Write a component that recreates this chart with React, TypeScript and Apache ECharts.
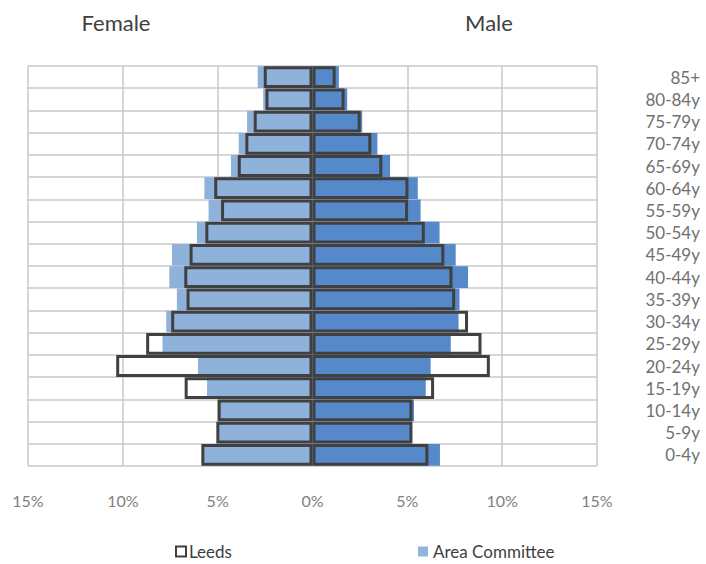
import React, { useEffect, useRef } from "react";
import * as echarts from "echarts";

const categories = ["0-4y", "5-9y", "10-14y", "15-19y", "20-24y", "25-29y", "30-34y", "35-39y", "40-44y", "45-49y", "50-54y", "55-59y", "60-64y", "65-69y", "70-74y", "75-79y", "80-84y", "85+"];
const femaleArea = [5.74, 4.95, 4.91, 5.56, 6.04, 7.91, 7.71, 7.15, 7.55, 7.41, 6.09, 5.48, 5.7, 4.3, 3.89, 3.45, 2.6, 2.89];
const femaleLeeds = [5.86, 5.07, 5.0, 6.74, 10.35, 8.77, 7.45, 6.64, 6.76, 6.48, 5.65, 4.82, 5.18, 3.94, 3.54, 3.1, 2.48, 2.57];
const maleArea = [6.72, 5.18, 5.35, 5.97, 6.23, 7.29, 7.7, 7.75, 8.2, 7.55, 6.7, 5.7, 5.55, 4.09, 3.42, 2.62, 1.83, 1.39];
const maleLeeds = [6.11, 5.27, 5.27, 6.41, 9.35, 8.91, 8.2, 7.52, 7.38, 6.95, 5.92, 5.04, 5.06, 3.68, 3.1, 2.54, 1.69, 1.22];
const xTicks = { min: -15, max: 15, interval: 5 };

const FONT = "Lato";

export default function App() {
  const ref = useRef<HTMLDivElement>(null);
  useEffect(() => {
    document.body.style.margin = "0";
    const chart = echarts.init(ref.current!, null, { renderer: "svg" });
    const barBase = { type: "bar" as const, barGap: "-100%", barCategoryGap: "2%" };
    chart.setOption({
      animation: false,
      textStyle: { fontFamily: FONT },
      grid: { left: 28, right: 109, top: 66, bottom: 98, containLabel: false, outerBoundsMode: "none" },
      graphic: [
        { type: "text", x: 116, y: 22, style: { text: "Female", fill: "#404040", font: `22px ${FONT}`, textAlign: "center", textVerticalAlign: "middle" } },
        { type: "text", x: 489, y: 22, style: { text: "Male", fill: "#404040", font: `22px ${FONT}`, textAlign: "center", textVerticalAlign: "middle" } },
      ],
      legend: [
        {
          left: 170, top: 538, itemWidth: 10, itemHeight: 10, icon: "rect", itemGap: 4,
          textStyle: { color: "#404040", fontSize: 17, fontFamily: FONT, padding: [0, 0, 0, -2] },
          data: [{ name: "Leeds", itemStyle: { color: "#ffffff", borderColor: "#404040", borderWidth: 2 } }],
        },
        {
          left: 413, top: 538, itemWidth: 10, itemHeight: 10, icon: "rect",
          textStyle: { color: "#404040", fontSize: 17, fontFamily: FONT },
          data: [{ name: "Area Committee", itemStyle: { color: "#95B3D7", borderWidth: 0 } }],
        },
      ],
      xAxis: {
        type: "value", min: xTicks.min, max: xTicks.max, interval: xTicks.interval,
        axisLine: { show: false }, axisTick: { show: false },
        axisLabel: { formatter: (v: number) => Math.abs(v) + "%", color: "#808080", fontSize: 16, fontFamily: FONT, margin: 26 },
        splitLine: { show: true, lineStyle: { color: "#C8C8C8", width: 1.5 } },
      },
      yAxis: {
        type: "category", data: categories, position: "right",
        axisLine: { show: false }, axisTick: { show: false },
        axisLabel: { align: "right", margin: 103, color: "#707070", fontSize: 17, fontFamily: FONT },
        splitLine: { show: true, lineStyle: { color: "#C8C8C8", width: 1.5 } },
      },
      series: [
        { ...barBase, name: "Area Committee", data: femaleArea.map((v) => -v), itemStyle: { color: "#8FB2DB" } },
        { ...barBase, name: "Area Committee", data: maleArea, itemStyle: { color: "#5689CA" } },
        { ...barBase, name: "Leeds", data: femaleLeeds.map((v) => -v), itemStyle: { color: "rgba(0,0,0,0)", borderColor: "#404040", borderWidth: 3 } },
        { ...barBase, name: "Leeds", data: maleLeeds, itemStyle: { color: "rgba(0,0,0,0)", borderColor: "#404040", borderWidth: 3 } },
      ],
    });
    return () => chart.dispose();
  }, []);
  return <div ref={ref} style={{ width: 706, height: 564 }} />;
}
